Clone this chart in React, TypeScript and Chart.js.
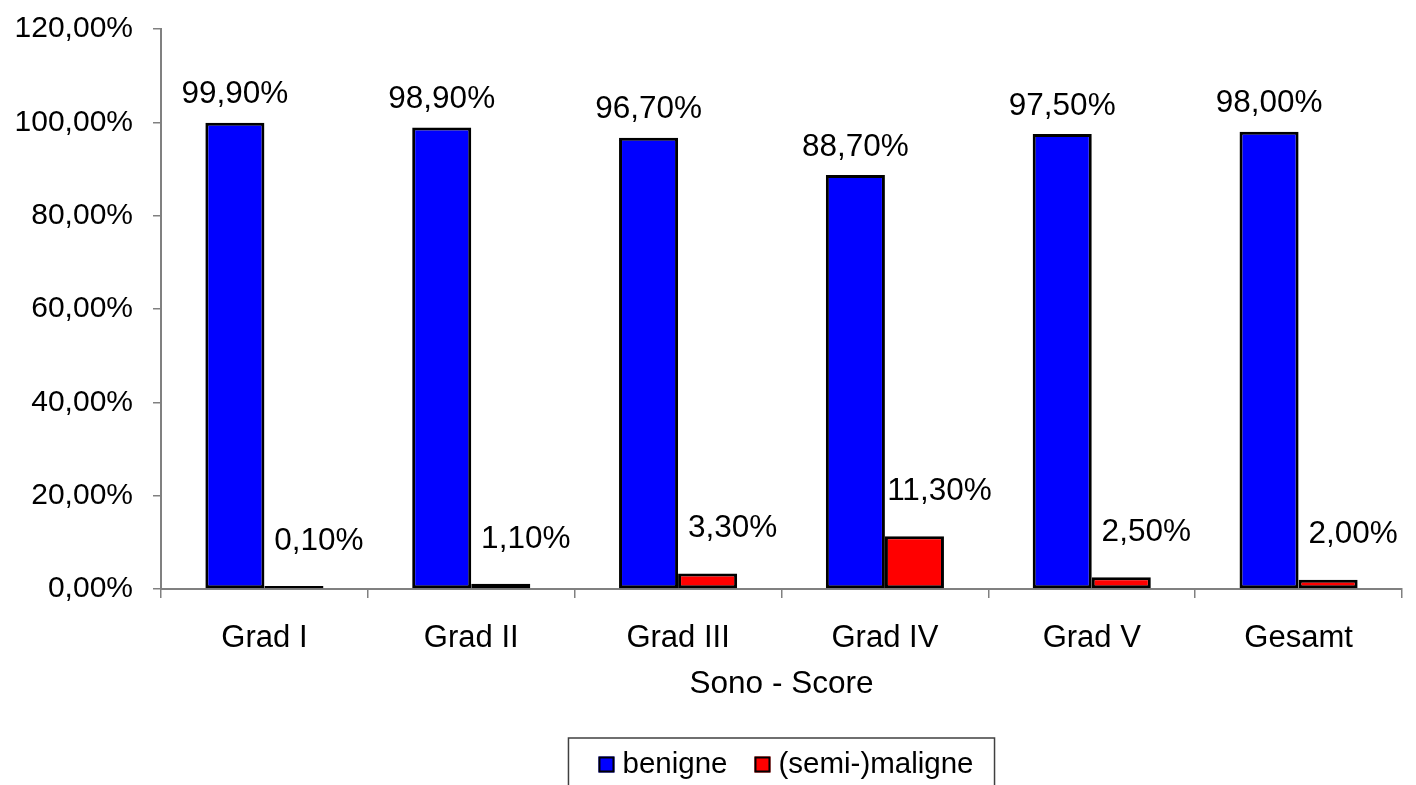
import React, { useEffect, useRef } from "react";
import { Chart, registerables } from "chart.js";

Chart.register(...registerables);

const categories = ["Grad I", "Grad II", "Grad III", "Grad IV", "Grad V", "Gesamt"];
const benigne = [99.9, 98.9, 96.7, 88.7, 97.5, 98.0];
const maligne = [0.1, 1.1, 3.3, 11.3, 2.5, 2.0];
const seriesNames = ["benigne", "(semi-)maligne"];
const seriesColors = ["#0000FF", "#FF0000"];
const yMin = 0;
const yMax = 120;
const yStep = 20;
const xTitle = "Sono - Score";

const FONT = "'Liberation Sans', Arial, sans-serif";

const fmt = (v: number) => v.toFixed(2).replace(".", ",") + "%";

const valueLabels = {
  id: "valueLabels",
  afterDatasetsDraw(chart: any) {
    const ctx = chart.ctx;
    ctx.save();
    ctx.font = `31.5px ${FONT}`;
    ctx.fillStyle = "#000";
    ctx.textAlign = "center";
    ctx.textBaseline = "middle";
    chart.data.datasets.forEach((ds: any, i: number) => {
      const meta = chart.getDatasetMeta(i);
      meta.data.forEach((bar: any, j: number) => {
        const dx = i === 0 ? 0 : 25;
        const dy = i === 0 ? 28 : 45;
        ctx.fillText(fmt(ds.data[j]), bar.x + dx, bar.y - dy);
      });
    });
    ctx.restore();
  },
};

const boxedLegend = {
  id: "boxedLegend",
  afterDraw(chart: any) {
    const ctx = chart.ctx;
    const ca = chart.chartArea;
    ctx.save();
    ctx.font = `29.5px ${FONT}`;
    const sq = 16;
    const gapText = 8;
    const gapItem = 27;
    const widths = chart.data.datasets.map((d: any) => ctx.measureText(d.label).width);
    let total = 0;
    widths.forEach((w: number, i: number) => {
      total += sq + gapText + w + (i < widths.length - 1 ? gapItem : 0);
    });
    const padL = 30;
    const padR = 21;
    const boxW = total + padL + padR;
    const cx = (ca.left + ca.right) / 2;
    const boxL = cx - boxW / 2;
    const boxT = 738;
    ctx.strokeStyle = "#404040";
    ctx.lineWidth = 1.5;
    ctx.strokeRect(boxL, boxT, boxW, 80);
    let x = boxL + padL;
    const cy = 764.5;
    chart.data.datasets.forEach((d: any, i: number) => {
      ctx.fillStyle = d.backgroundColor;
      ctx.fillRect(x, cy - sq / 2, sq, sq);
      ctx.strokeStyle = "#000";
      ctx.lineWidth = 2;
      ctx.strokeRect(x + 1, cy - sq / 2 + 1, sq - 2, sq - 2);
      ctx.fillStyle = "#000";
      ctx.textAlign = "left";
      ctx.textBaseline = "middle";
      ctx.fillText(d.label, x + sq + gapText, cy);
      x += sq + gapText + widths[i] + gapItem;
    });
    ctx.restore();
  },
};

export default function App() {
  const canvasRef = useRef<HTMLCanvasElement | null>(null);

  useEffect(() => {
    if (!canvasRef.current) return;
    const chart = new Chart(canvasRef.current, {
      type: "bar",
      data: {
        labels: categories,
        datasets: [
          {
            label: seriesNames[0],
            data: benigne,
            backgroundColor: seriesColors[0],
            borderColor: "#000",
            borderWidth: 3,
            borderSkipped: false,
          },
          {
            label: seriesNames[1],
            data: maligne,
            backgroundColor: seriesColors[1],
            borderColor: "#000",
            borderWidth: 3,
            borderSkipped: false,
            minBarLength: 3,
          },
        ],
      },
      options: {
        responsive: false,
        animation: false,
        events: [],
        layout: { padding: { top: 29, right: 14, bottom: 82, left: 0 } },
        datasets: {
          bar: { categoryPercentage: 0.571, barPercentage: 1.0 },
        },
        plugins: {
          legend: { display: false },
          tooltip: { enabled: false },
        },
        scales: {
          x: {
            type: "category",
            afterFit(scale: any) {
              scale.height = 114;
            },
            grid: {
              offset: true,
              drawOnChartArea: false,
              drawTicks: true,
              tickLength: 9,
              color: "#808080",
              lineWidth: 1.5,
            },
            border: { color: "#808080", width: 2 },
            ticks: {
              color: "#000",
              font: { family: FONT, size: 31 },
              padding: 22,
              maxRotation: 0,
            },
            title: {
              display: true,
              text: xTitle,
              color: "#000",
              font: { family: FONT, size: 31.5 },
              padding: 0,
            },
          },
          y: {
            min: yMin,
            max: yMax,
            afterFit(scale: any) {
              scale.width = 161;
              scale.paddingTop = 0;
              scale.paddingBottom = 0;
            },
            grid: {
              drawOnChartArea: false,
              drawTicks: true,
              tickLength: 8,
              color: "#808080",
              lineWidth: 1.5,
            },
            border: { color: "#808080", width: 2 },
            ticks: {
              stepSize: yStep,
              color: "#000",
              font: { family: FONT, size: 30 },
              padding: 20,
              callback: (v: any) => fmt(Number(v)),
            },
          },
        },
      },
      plugins: [valueLabels, boxedLegend],
    });
    return () => chart.destroy();
  }, []);

  return (
    <div style={{ position: "fixed", left: 0, top: 0, width: 1416, height: 785, background: "#fff" }}>
      <canvas ref={canvasRef} width={1416} height={785} style={{ display: "block" }} />
    </div>
  );
}
